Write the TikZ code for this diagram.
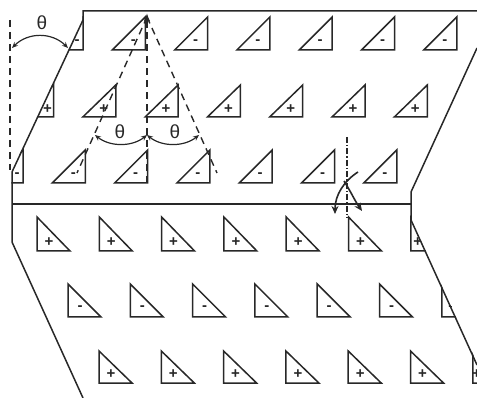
\documentclass[tikz,border=0pt]{standalone}
\usepackage{fontspec}
\setmainfont{Liberation Sans}
\usetikzlibrary{arrows.meta}
\definecolor{ink}{RGB}{40,40,40}
\tikzset{
  edge/.style={draw=ink, line width=1.5pt, line join=miter},
  tri/.style={draw=ink, line width=1.5pt, line join=miter},
  dashline/.style={draw=ink, line width=1.4pt, dash pattern=on 7pt off 5pt},
  sign/.style={font=\fontsize{15}{15}\selectfont\bfseries, text=ink, inner sep=0pt},
  thetalbl/.style={font=\fontsize{19}{19}\selectfont, text=ink, inner sep=0pt},
  anglearc/.style={draw=ink, line width=1.2pt, {Stealth[length=6pt,width=5pt]}-{Stealth[length=6pt,width=5pt]}},
  turnarrow/.style={draw=ink, line width=1.6pt, -{Stealth[length=8pt,width=7pt]}},
}
\begin{document}
\begin{tikzpicture}[x=1pt,y=-1pt]
\useasboundingbox (0,0) rectangle (477,398);
% ---------- upper panel triangles ----------
\begin{scope}
\clip (82.3,10.3) -- (478,10.3) -- (478,48) -- (411.7,192) -- (411.7,204) -- (11.3,204) -- (11.3,172) -- (82.3,20) -- cycle;
\foreach \x/\t/\b/\s [count=\r] in {83/17/50/-, 53.5/85/117/+, 23/150/183/-}{
  \foreach \k in {0,...,6}{
    \pgfmathsetmacro\R{\x+62.3*\k}
    \pgfmathsetmacro\sx{ifthenelse(\k==0,\R-6,\R-12)}
    \draw[tri] (\R-33,\b) -- (\R,\b) -- (\R,\t) -- cycle;
    \node[sign] (u\r-\k) at (\sx,\b-8) {\s};
  }
}
\end{scope}
% ---------- lower panel triangles ----------
\begin{scope}
\clip (11.3,204) -- (411.7,204) -- (411.7,220) -- (478,365) -- (478,399) -- (83,399) -- (11.3,242) -- cycle;
\foreach \x/\t/\b/\s/\e [count=\r] in {37/217/251/+/7, 68/284/317/-/9, 99/351/383/+/4}{
  \foreach \k in {0,...,6}{
    \pgfmathsetmacro\L{\x+62.3*\k}
    \pgfmathsetmacro\sx{ifthenelse(\k==6,\L+\e,\L+12)}
    \draw[tri] (\L,\t) -- (\L,\b) -- (\L+33,\b) -- cycle;
    \node[sign] (l\r-\k) at (\sx,\b-9) {\s};
  }
}
\end{scope}
% ---------- panel outlines ----------
\draw[edge] (477,11) -- (83,11) -- (83,20) -- (12,172) -- (12,242) -- (83,398);
\draw[edge] (477,48) -- (411,192) -- (411,220) -- (477,365);
\draw[edge] (12,204) -- (411,204);
% ---------- angle construction ----------
\coordinate (apex) at (147,17);
\coordinate (vbot) at (147,183);
\coordinate (lbot) at (77,173);
\coordinate (rbot) at (217,173);
\draw[dashline] (10,20) -- (10,170);
\draw[dashline] (vbot) -- (apex);
\draw[dashline] (apex) -- (lbot);
\draw[dashline] (apex) -- (rbot);
\draw[draw=ink, line width=1.4pt, -{Latex[length=8pt,width=6pt]}] (147,28) -- (147,13);
\draw[anglearc] (12,48) .. controls (28,32) and (52,32) .. (68,48);
\draw[anglearc] (95,135) .. controls (110,147) and (132,147) .. (147,135);
\draw[anglearc] (147,135) .. controls (162,147) and (184,147) .. (199,135);
\node[thetalbl] (th1) at (42,23) {θ};
\node[thetalbl] (th2) at (120,132) {θ};
\node[thetalbl] (th3) at (175,132) {θ};
% ---------- fold / rotation mark ----------
\draw[draw=ink, line width=1.2pt, dash pattern=on 6pt off 2pt on 1.5pt off 2pt] (347,137) -- (347,218);
\draw[turnarrow] (358,172) .. controls (344,181) and (335,195) .. (335,214);
\draw[turnarrow] (344,181) .. controls (351,192) and (355,201) .. (362,211);
\end{tikzpicture}
\end{document}
